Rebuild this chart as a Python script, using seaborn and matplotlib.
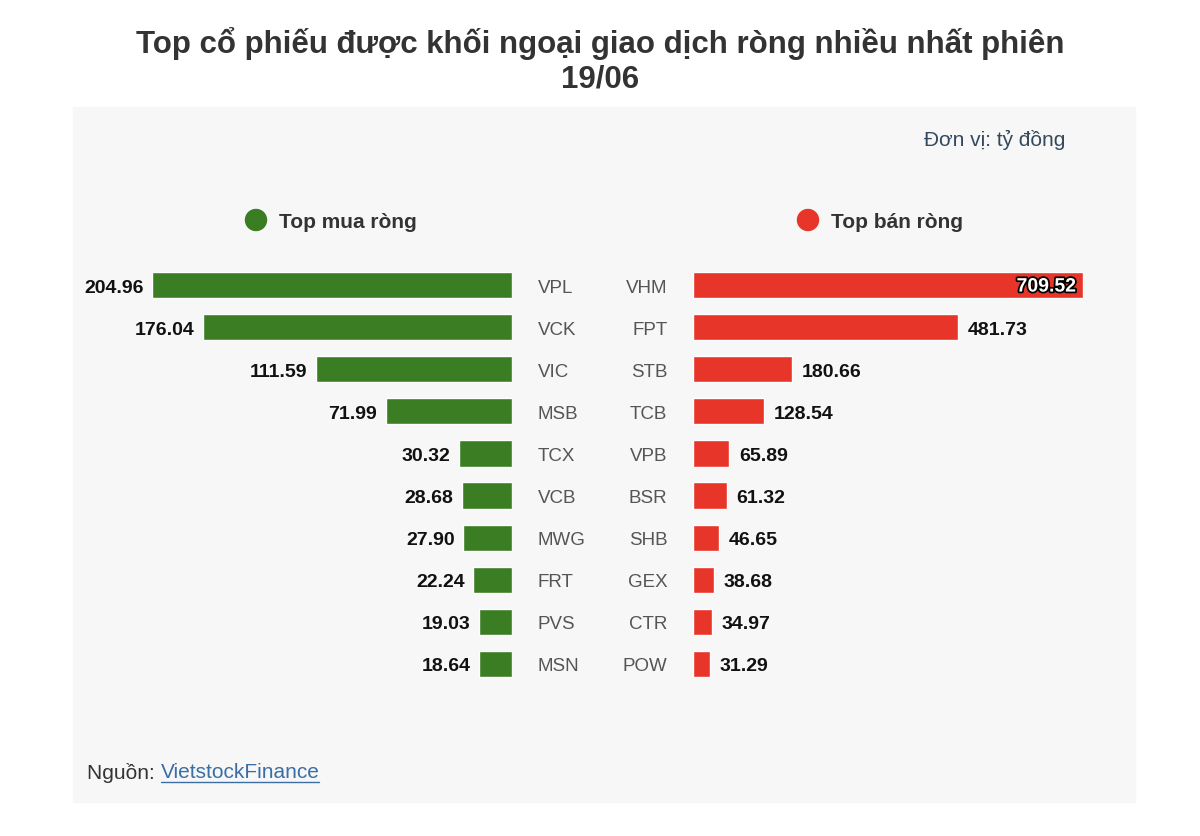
import matplotlib
matplotlib.use("Agg")
import matplotlib.pyplot as plt
import matplotlib.patheffects as pe
from matplotlib.patches import Rectangle, Ellipse
from matplotlib.lines import Line2D
import seaborn as sns

# data (đơn vị: tỷ đồng)
buy_names = ["VPL", "VCK", "VIC", "MSB", "TCX", "VCB", "MWG", "FRT", "PVS", "MSN"]
buy_values = [204.96, 176.04, 111.59, 71.99, 30.32, 28.68, 27.90, 22.24, 19.03, 18.64]
sell_names = ["VHM", "FPT", "STB", "TCB", "VPB", "BSR", "SHB", "GEX", "CTR", "POW"]
sell_values = [709.52, 481.73, 180.66, 128.54, 65.89, 61.32, 46.65, 38.68, 34.97, 31.29]

GREEN = "#3a7d22"
RED = "#e8352a"
W, H = 1200, 837

sns.set_theme(style="white")
plt.rcParams["font.family"] = ["Liberation Sans", "DejaVu Sans"]

fig = plt.figure(figsize=(W / 100, H / 100), dpi=100)


def fx(px):
    return px / W


def fy(py):
    return 1 - py / H


# grey panel
fig.patches.append(Rectangle((fx(73), fy(803)), fx(1135) - fx(73), fy(108) - fy(803),
                             transform=fig.transFigure, color="#f7f7f7", zorder=-5))

fig.text(0.5, fy(44), "Top cổ phiếu được khối ngoại giao dịch ròng nhiều nhất phiên",
         ha="center", va="center", fontsize=22.5, fontweight="bold", color="#333333")
fig.text(0.5, fy(79), "19/06", ha="center", va="center", fontsize=22.5,
         fontweight="bold", color="#333333")
fig.text(fx(1065), fy(140), "Đơn vị: tỷ đồng", ha="right", va="center",
         fontsize=15, color="#34495e")

# legend markers
for cx, col, label in [(256, GREEN, "Top mua ròng"), (808, RED, "Top bán ròng")]:
    fig.add_artist(Ellipse((fx(cx), fy(221)), 21 / W, 21 / H, transform=fig.transFigure,
                           color=col, zorder=2))
    fig.text(fx(cx + 23), fy(222), label, ha="left", va="center", fontsize=15,
             fontweight="bold", color="#333333")

top, bottom = 265, 686
ax_l = fig.add_axes([fx(80), fy(bottom), fx(512) - fx(80), fy(top) - fy(bottom)])
ax_r = fig.add_axes([fx(693), fy(bottom), fx(1120) - fx(693), fy(top) - fy(bottom)])

sns.barplot(x=buy_values, y=buy_names, ax=ax_l, color=GREEN, orient="h",
            width=0.62, saturation=1)
sns.barplot(x=sell_values, y=sell_names, ax=ax_r, color=RED, orient="h",
            width=0.62, saturation=1)

ax_l.set_xlim(buy_values[0] * 432 / 360, 0)
ax_r.set_xlim(0, sell_values[0] * 427 / 390)

for ax in (ax_l, ax_r):
    ax.patch.set_visible(False)
    sns.despine(ax=ax, left=True, bottom=True, right=True, top=True)
    ax.set_xticks([])
    ax.set_xlabel("")
    ax.set_ylabel("")
    ax.tick_params(axis="y", length=0, labelsize=13.5, labelcolor="#555555", pad=18.5)

ax_l.yaxis.tick_right()
for lab in ax_l.get_yticklabels():
    lab.set_ha("left")
for lab in ax_r.get_yticklabels():
    lab.set_ha("right")

for i, v in enumerate(buy_values):
    ax_l.annotate(f"{v:.2f}", (v, i), xytext=(-6, 0), textcoords="offset points",
                  ha="right", va="center_baseline", fontsize=14, fontweight="bold",
                  color="#111111")

for i, v in enumerate(sell_values):
    if i == 0:
        ax_r.annotate(f"{v:.2f}", (v, i), xytext=(-5, 0), textcoords="offset points",
                      ha="right", va="center_baseline", fontsize=14, fontweight="bold",
                      color="white",
                      path_effects=[pe.withStroke(linewidth=2.5, foreground="black")])
    else:
        ax_r.annotate(f"{v:.2f}", (v, i), xytext=(7, 0), textcoords="offset points",
                      ha="left", va="center_baseline", fontsize=14, fontweight="bold",
                      color="#111111")

# source line
t1 = fig.text(fx(87), fy(773), "Nguồn: ", ha="left", va="center", fontsize=15,
              color="#333333")
fig.canvas.draw()
r = fig.canvas.get_renderer()
bb = t1.get_window_extent(r)
t2 = fig.text(bb.x1 / W, fy(773), "VietstockFinance", ha="left", va="center",
              fontsize=15, color="#3a6ea5")
bb2 = t2.get_window_extent(r)
fig.add_artist(Line2D([bb2.x0 / W, bb2.x1 / W], [fy(783), fy(783)],
                      transform=fig.transFigure, color="#3a6ea5", lw=1))

fig.savefig("out.png", dpi=100)
